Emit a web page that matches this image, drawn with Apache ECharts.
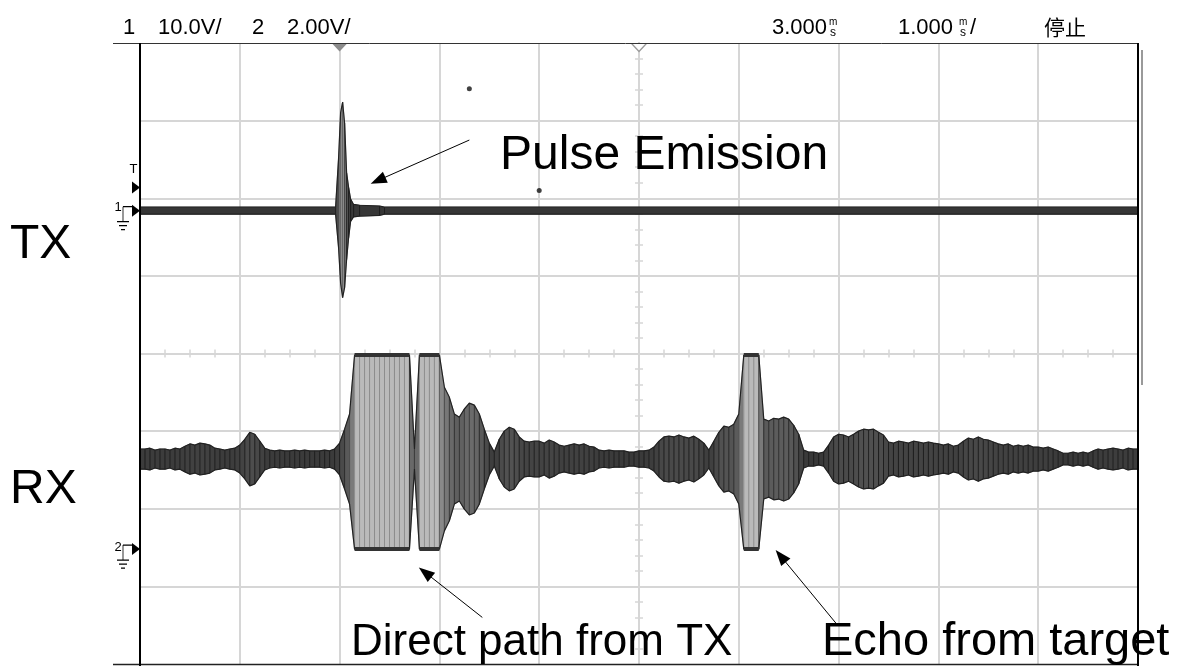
<!DOCTYPE html>
<html>
<head>
<meta charset="utf-8">
<title>TX / RX scope capture</title>
<script src="https://cdn.jsdelivr.net/npm/echarts@6/dist/echarts.min.js"></script>
<style>
  html, body { margin: 0; padding: 0; background: #fff; }
  #main { width: 1181px; height: 666px; }
</style>
</head>
<body>
<div id="main"></div>
<script>
// scope settings (header: 1.000 ms/div, 3.000 ms delay, 8 vertical divisions)
var timeMin = -2, timeMax = 8;
var divMin = -4, divMax = 4;
var ch1VoltsPerDiv = 10, ch1Ground = 1.84;   // TX, ground marker position in div
var ch2VoltsPerDiv = 2, ch2Ground = -2.52;   // RX
var trigLevel = 3.0;                         // V on channel 1

// TX burst envelope, volts on channel 1
var txTime = [-2, -0.04, -0.01, 0.01, 0.03, 0.05, 0.07, 0.09, 0.11, 0.14, 0.2, 0.4, 0.45, 8];
var txHigh = [0.45, 0.45, 6.8, 12.6, 14.0, 11.3, 4.9, 3.0, 1.5, 0.8, 0.7, 0.6, 0.45, 0.45];
var txLow = [-0.45, -0.45, -4.8, -9.3, -11.2, -9.9, -6.3, -3.5, -1.4, -0.8, -0.7, -0.6, -0.45, -0.45];

// RX half-amplitude every 0.05 ms from -2 ms to 8 ms, volts on channel 2
var rxStep = 0.05;
var rxOffset = 2.32;
var rxClip = [0, 5.0];
var rxAmp = [
  0.26, 0.26, 0.28, 0.23, 0.26, 0.26, 0.23, 0.28, 0.26, 0.33,
  0.39, 0.36, 0.41, 0.39, 0.36, 0.28, 0.26, 0.23, 0.26, 0.28,
  0.36, 0.51, 0.69, 0.64, 0.46, 0.28, 0.23, 0.21, 0.23, 0.21,
  0.21, 0.23, 0.21, 0.23, 0.21, 0.21, 0.21, 0.23, 0.21, 0.26,
  0.41, 0.77, 1.16, 3, 3, 3, 3, 3, 3, 3,
  3, 3, 3, 3, 3, 0.26, 3, 3, 3, 3,
  3, 1.85, 1.59, 1.16, 1.08, 1.29, 1.44, 1.39, 1.16, 0.77,
  0.41, 0.18, 0.51, 0.72, 0.82, 0.77, 0.57, 0.46, 0.44, 0.46,
  0.46, 0.41, 0.49, 0.44, 0.36, 0.33, 0.36, 0.39, 0.36, 0.39,
  0.33, 0.31, 0.23, 0.21, 0.23, 0.21, 0.21, 0.21, 0.18, 0.18,
  0.21, 0.21, 0.23, 0.31, 0.46, 0.57, 0.59, 0.57, 0.62, 0.57,
  0.54, 0.59, 0.51, 0.41, 0.23, 0.46, 0.69, 0.85, 0.82, 0.90,
  1.16, 3, 3, 3, 3, 1.03, 0.98, 1.05, 1.03, 1.08,
  1.03, 0.87, 0.64, 0.23, 0.18, 0.18, 0.15, 0.18, 0.36, 0.57,
  0.64, 0.62, 0.57, 0.64, 0.72, 0.77, 0.75, 0.77, 0.69, 0.62,
  0.44, 0.41, 0.46, 0.44, 0.41, 0.46, 0.44, 0.41, 0.44, 0.41,
  0.39, 0.36, 0.39, 0.33, 0.36, 0.46, 0.54, 0.51, 0.57, 0.51,
  0.49, 0.44, 0.39, 0.36, 0.39, 0.33, 0.36, 0.33, 0.36, 0.31,
  0.31, 0.28, 0.31, 0.26, 0.21, 0.15, 0.15, 0.18, 0.15, 0.18,
  0.15, 0.21, 0.26, 0.23, 0.26, 0.28, 0.26, 0.23, 0.28, 0.26,
  0.26
];

// two stray dots on the screen (ms, div)
var strayDots = [[1.30, 3.41], [2.00, 2.10]];

// annotation arrows: [from, to] in (ms, div)
var arrows = [
  [[1.30, 2.75], [0.385, 2.23]],
  [[1.43, -3.40], [0.857, -2.82]],
  [[4.99, -3.50], [4.42, -2.61]]
];

var gridColor = '#d6d6d6';

// ---- build display traces (in divisions) ----
function toDiv(v, vpd, ground) { return ground + v / vpd; }

var txHi = txHigh.map(function (v) { return toDiv(v, ch1VoltsPerDiv, ch1Ground); });
var txLo = txLow.map(function (v) { return toDiv(v, ch1VoltsPerDiv, ch1Ground); });
var txFlag = txTime.map(function () { return false; });

var rxTime = rxAmp.map(function (a, i) { return +(timeMin + i * rxStep).toFixed(2); });
var rxHi = rxAmp.map(function (a) { return toDiv(Math.min(rxOffset + a, rxClip[1]), ch2VoltsPerDiv, ch2Ground); });
var rxLo = rxAmp.map(function (a) { return toDiv(Math.max(rxOffset - a, rxClip[0]), ch2VoltsPerDiv, ch2Ground); });
var rxHiClip = rxAmp.map(function (a) { return rxOffset + a >= rxClip[1]; });
var rxLoClip = rxAmp.map(function (a) { return rxOffset - a <= rxClip[0]; });

function grey(g) { g = Math.round(g); return 'rgb(' + g + ',' + g + ',' + g + ')'; }

function fillSeries(name, t, hi, lo, clipped) {
  var segs = [];
  for (var i = 0; i < t.length - 1; i++) segs.push([t[i], t[i + 1], Math.max(hi[i], hi[i + 1]), Math.min(lo[i], lo[i + 1])]);
  return {
    type: 'custom', name: name, silent: true, clip: true, z: 3,
    encode: { x: [0, 1], y: [2, 3] },
    data: segs,
    renderItem: function (params, api) {
      var i = params.dataIndex;
      var a = api.coord([t[i], hi[i]]), b = api.coord([t[i + 1], hi[i + 1]]);
      var c = api.coord([t[i + 1], lo[i + 1]]), d = api.coord([t[i], lo[i]]);
      var span = ((hi[i] - lo[i]) + (hi[i + 1] - lo[i + 1])) / 2;
      var sat = clipped[i] && clipped[i + 1];
      var g = sat ? 186 : Math.min(150, 50 + 40 * span);
      return {
        type: 'group',
        children: [
          { type: 'polygon', shape: { points: [a, b, c, d] }, style: { fill: grey(g), stroke: grey(g), lineWidth: 0.6 } },
          { type: 'line', shape: { x1: a[0], y1: a[1], x2: d[0], y2: d[1] }, style: { stroke: grey(Math.max(30, g - 45)), lineWidth: 1 } }
        ]
      };
    }
  };
}

function edgeSeries(t, vals, width, color, mask) {
  return {
    type: 'line', silent: true, symbol: 'none', z: 4, connectNulls: false,
    lineStyle: { color: color, width: width },
    data: t.map(function (x, i) { return (mask && !mask[i]) ? [x, null] : [x, vals[i]]; })
  };
}

var downTri = 'path://M0,0 L14,0 L7,8 Z';
var rightTri = 'path://M0,0 L8,6 L0,12 Z';
var groundGlyph = 'path://M6,0 L15,0 M6,0 L6,15 M0,15 L12,15 M2,19 L10,19 M4,23 L8,23';

function chLabel(coord, text, off) {
  return {
    coord: coord, symbol: 'rect', symbolSize: 1, itemStyle: { color: 'rgba(0,0,0,0)' },
    label: { show: true, position: 'inside', formatter: text, offset: off, color: '#000', fontSize: 13, fontFamily: 'Liberation Sans' }
  };
}

var trigDiv = toDiv(trigLevel, ch1VoltsPerDiv, ch1Ground);

var markerSeries = {
  type: 'scatter', name: 'dots', silent: true, z: 6,
  symbolSize: 5, itemStyle: { color: '#111' },
  data: strayDots,
  markPoint: {
    silent: true, label: { show: false },
    data: [
      { coord: [0, divMax], symbol: downTri, symbolSize: [15, 8], symbolOffset: [0, 4.5], itemStyle: { color: '#8c8c8c' } },
      { coord: [3, divMax], symbol: downTri, symbolSize: [15, 8], symbolOffset: [0, 4.5], itemStyle: { color: '#fff', borderColor: '#9a9a9a', borderWidth: 1.2 } },
      { coord: [timeMin, trigDiv], symbol: rightTri, symbolSize: [8, 12], symbolOffset: [-4, 0], itemStyle: { color: '#000' } },
      { coord: [timeMin, ch1Ground], symbol: rightTri, symbolSize: [8, 12], symbolOffset: [-4, 0], itemStyle: { color: '#000' } },
      { coord: [timeMin, ch2Ground], symbol: rightTri, symbolSize: [8, 12], symbolOffset: [-4, 0], itemStyle: { color: '#000' } },
      { coord: [timeMin, ch1Ground], symbol: groundGlyph, symbolSize: [15, 23], symbolOffset: [-15.5, 7.5], itemStyle: { color: 'none', borderColor: '#000', borderWidth: 1 } },
      { coord: [timeMin, ch2Ground], symbol: groundGlyph, symbolSize: [15, 23], symbolOffset: [-15.5, 7.5], itemStyle: { color: 'none', borderColor: '#000', borderWidth: 1 } },
      chLabel([timeMin, trigDiv], 'T', [-6.5, -18]),
      chLabel([timeMin, ch1Ground], '1', [-22, -3]),
      chLabel([timeMin, ch2Ground], '2', [-22, -2])
    ]
  },
  markLine: {
    silent: true, symbol: ['none', 'triangle'], symbolSize: [12, 16],
    label: { show: false },
    lineStyle: { color: '#000', width: 1, type: 'solid' },
    data: arrows.map(function (a) { return [{ coord: a[0] }, { coord: a[1] }]; })
  }
};

function xAx(pos, extra) {
  return Object.assign({
    type: 'value', position: pos, min: timeMin, max: timeMax, interval: 1,
    axisLabel: { show: false },
    axisLine: { show: true, onZero: true, onZeroAxisIndex: 0, lineStyle: { color: gridColor, width: 2 } },
    axisTick: { show: false },
    minorTick: { show: true, splitNumber: 4, length: 4, lineStyle: { color: gridColor, width: 1.5 } },
    splitLine: { show: false }
  }, extra || {});
}
function yAx(pos, extra) {
  return Object.assign({
    type: 'value', position: pos, offset: -499, min: divMin, max: divMax, interval: 1,
    axisLabel: { show: false },
    axisLine: { show: true, onZero: false, lineStyle: { color: gridColor, width: 2 } },
    axisTick: { show: false },
    minorTick: { show: true, splitNumber: 5, length: 4, lineStyle: { color: gridColor, width: 1.5 } },
    splitLine: { show: false }
  }, extra || {});
}
var split = { show: true, showMinLine: false, showMaxLine: false, lineStyle: { color: gridColor, width: 2 } };

function txt(x, y, text, size, family, extra) {
  return Object.assign({
    type: 'text', x: x, y: y, z: 20, silent: true,
    style: { text: text, fill: '#000', font: size + 'px ' + (family || '"Liberation Sans", Arial, sans-serif'), verticalAlign: 'top' }
  }, extra || {});
}
function seg(x1, y1, x2, y2, color, w) {
  return { type: 'line', z: 15, silent: true, shape: { x1: x1, y1: y1, x2: x2, y2: y2 }, style: { stroke: color, lineWidth: w } };
}

var chart = echarts.init(document.getElementById('main'));
chart.setOption({
  animation: false,
  backgroundColor: '#fff',
  grid: { left: 140, top: 43, width: 998, height: 621, containLabel: false },
  xAxis: [xAx('bottom', { splitLine: split }), xAx('top')],
  yAxis: [yAx('left', { splitLine: split }), yAx('right')],
  series: [
    fillSeries('TX', txTime, txHi, txLo, txFlag),
    edgeSeries(txTime, txHi, 1.2, '#222'),
    edgeSeries(txTime, txLo, 1.2, '#222'),
    fillSeries('RX', rxTime, rxHi, rxLo, rxHiClip),
    edgeSeries(rxTime, rxHi, 1.2, '#222'),
    edgeSeries(rxTime, rxLo, 1.2, '#222'),
    edgeSeries(rxTime, rxHi, 4, '#333', rxHiClip),
    edgeSeries(rxTime, rxLo, 4, '#333', rxLoClip),
    markerSeries
  ],
  graphic: [
    seg(113, 43.5, 1138, 43.5, '#333', 1),
    seg(113, 664.5, 1138, 664.5, '#222', 1.5),
    seg(140, 43, 140, 666, '#000', 2),
    seg(1138, 43, 1138, 666, '#000', 2),
    seg(1142, 50, 1142, 385, '#9a9a9a', 2),
    txt(123, 17, '1', 22),
    txt(158, 17, '10.0V/', 22),
    txt(252, 17, '2', 22),
    txt(287, 17, '2.00V/', 22),
    txt(772, 17, '3.000', 22),
    txt(829, 17, 'm', 10),
    txt(830, 27, 's', 12),
    txt(898, 17, '1.000', 22),
    txt(959, 17, 'm', 10),
    txt(960, 27, 's', 12),
    txt(970, 17, '/', 22),
    txt(1044, 17, '停止', 21, '"Noto Sans CJK SC", sans-serif'),
    txt(10, 221, 'TX', 48),
    txt(10, 466, 'RX', 48),
    txt(500, 132, 'Pulse Emission', 48),
    txt(351, 621, 'Direct path from TX', 44),
    txt(822, 619, 'Echo from target', 47)
  ]
});
</script>
</body>
</html>
